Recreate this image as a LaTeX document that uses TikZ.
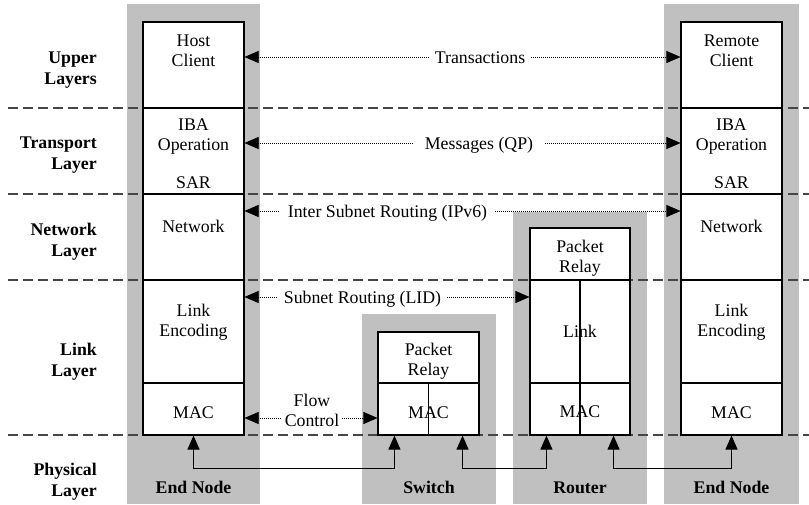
\documentclass[tikz,border=0pt]{standalone}
\usepackage{fontspec}
\setmainfont{Liberation Serif}
\usetikzlibrary{arrows.meta,calc}
\definecolor{nodebg}{RGB}{192,192,192}
\definecolor{levelline}{RGB}{70,70,70}
\begin{document}
\begin{tikzpicture}[x=1pt,y=-1pt,
  >={Triangle[length=14pt,width=12pt]},
  every node/.style={font=\fontsize{17.8}{20.8}\selectfont, inner sep=0pt},
  sect/.style={draw, line width=1.1pt, fill=white, rectangle},
  layerlbl/.style={anchor=base east, align=right, text width=95pt,
    font=\fontsize{17.8}{21}\selectfont\bfseries},
  devlbl/.style={anchor=base, font=\fontsize{17.8}{21}\selectfont\bfseries},
  txt/.style={anchor=base, align=center, text width=100pt},
  lbl/.style={text height=12pt, text depth=0pt, inner xsep=6pt, anchor=center},
  level/.style={dash pattern=on 10pt off 5pt, line width=1.4pt, draw=levelline},
  msg/.style={line width=0.6pt, dash pattern=on 1pt off 1pt},
  phy/.style={line width=1.1pt, <->},
]
\useasboundingbox (0,0) rectangle (809,504);
\fill[white] (0,0) rectangle (809,504);

% device backgrounds
\fill[nodebg] (127,4) rectangle (260,504);
\fill[nodebg] (362,314) rectangle (496,504);
\fill[nodebg] (513,212) rectangle (647,504);
\fill[nodebg] (664,4) rectangle (799,504);

% layer boundaries
\foreach \yy in {108,194,280,435}
  \draw[level] (8,\yy) -- (809,\yy);

% left end node
\node[sect, minimum width=101pt, minimum height=86pt] (lhc) at (193.5,65) {};
\node[sect, minimum width=101pt, minimum height=86pt] (liba) at (193.5,151) {};
\node[sect, minimum width=101pt, minimum height=86pt] (lnet) at (193.5,237) {};
\node[sect, minimum width=101pt, minimum height=103pt] (llink) at (193.5,331.5) {};
\node[sect, minimum width=101pt, minimum height=52pt] (lmac) at (193.5,409) {};

% right end node
\node[sect, minimum width=101pt, minimum height=86pt] (rhc) at (731.5,65) {};
\node[sect, minimum width=101pt, minimum height=86pt] (riba) at (731.5,151) {};
\node[sect, minimum width=101pt, minimum height=86pt] (rnet) at (731.5,237) {};
\node[sect, minimum width=101pt, minimum height=103pt] (rlink) at (731.5,331.5) {};
\node[sect, minimum width=101pt, minimum height=52pt] (rmac) at (731.5,409) {};

% router
\node[sect, minimum width=100pt, minimum height=52pt] (orelay) at (580,254) {};
\node[sect, minimum width=100pt, minimum height=103pt] (olink) at (580,331.5) {};
\node[sect, minimum width=100pt, minimum height=52pt] (omac) at (580,409) {};

% switch
\node[sect, minimum width=101pt, minimum height=51pt] (srelay) at (428.5,357.5) {};
\node[sect, minimum width=101pt, minimum height=52pt] (smac) at (428.5,409) {};

% box texts
\node[txt] (thc) at (193.5,46) {Host\\Client};
\node[txt] (tiba) at (193.5,130) {IBA\\Operation};
\node[txt] (tsar) at (193.5,188) {SAR};
\node[txt] (tnet) at (193.5,232) {Network};
\node[txt] (tenc) at (193.5,316) {Link\\Encoding};
\node[txt] (tmac) at (193.5,418) {MAC};

\node[txt] (trc) at (731.5,46) {Remote\\Client};
\node[txt] (triba) at (731.5,130) {IBA\\Operation};
\node[txt] (trsar) at (731.5,188) {SAR};
\node[txt] (trnet) at (731.5,232) {Network};
\node[txt] (trenc) at (731.5,316) {Link\\Encoding};
\node[txt] (trmac) at (731.5,418) {MAC};

\node[txt] (torelay) at (580,252) {Packet\\Relay};
\node[txt] (tolink) at (580,337) {Link};
\node[txt] (tomac) at (580,417) {MAC};

\node[txt] (tsrelay) at (428.5,355) {Packet\\Relay};
\node[txt] (tsmac) at (428.5,418) {MAC};

% port dividers
\draw[line width=1.1pt] (olink.north) -- (omac.south);
\draw[line width=1.1pt] (smac.north) -- (smac.south);

% layer names
\node[layerlbl] (lup) at (97,63) {Upper\\Layers};
\node[layerlbl] (ltr) at (97,148) {Transport\\Layer};
\node[layerlbl] (lnw) at (97,235) {Network\\Layer};
\node[layerlbl] (llk) at (97,355) {Link\\Layer};
\node[layerlbl] (lph) at (97,475) {Physical\\Layer};

% device names
\node[devlbl] (dl) at (193.5,493) {End Node};
\node[devlbl] (ds) at (429,493) {Switch};
\node[devlbl] (dr) at (580,493) {Router};
\node[devlbl] (dn) at (731.5,493) {End Node};

% peer communication
\node[lbl] (ltrans) at (480,57) {Transactions};
\draw[msg, <-] (lhc.east |- ltrans) -- (ltrans.west);
\draw[msg, ->] (ltrans.east) -- (rhc.west |- ltrans);

\node[lbl, inner xsep=12pt] (lmsg) at (479,143) {Messages (QP)};
\draw[msg, <-] (liba.east |- lmsg) -- (lmsg.west);
\draw[msg, ->] (lmsg.east) -- (riba.west |- lmsg);

\node[lbl, inner xsep=8pt] (lipv) at (387.5,211) {Inter Subnet Routing (IPv6)};
\draw[msg, <-] (lnet.east |- lipv) -- (lipv.west);
\draw[msg, ->] (lipv.east) -- (rnet.west |- lipv);

\node[lbl] (llid) at (362.5,297) {Subnet Routing (LID)};
\draw[msg, <-] (llink.east |- llid) -- (llid.west);
\draw[msg, ->] (llid.east) -- (olink.west |- llid);

\node[txt, text width=80pt] (lflow) at (312,406) {Flow\\Control};
\coordinate (fcy) at (312,418);
\draw[msg, <-] (lmac.east |- fcy) -- ($(lflow.west |- fcy)+(10,0)$);
\draw[msg, ->] ($(lflow.east |- fcy)+(-10,0)$) -- (smac.west |- fcy);

% physical links
\coordinate (sA) at ($(smac.south west)+(17,0)$);
\coordinate (sB) at ($(smac.south east)+(-17,0)$);
\coordinate (oA) at ($(omac.south west)+(17,0)$);
\coordinate (oB) at ($(omac.south east)+(-17,0)$);
\draw[phy] (lmac.south) -- ++(0,33) -| (sA);
\draw[phy] (sB) -- ++(0,33) -| (oA);
\draw[phy] (oB) -- ++(0,33) -| (rmac.south);
\end{tikzpicture}
\end{document}
